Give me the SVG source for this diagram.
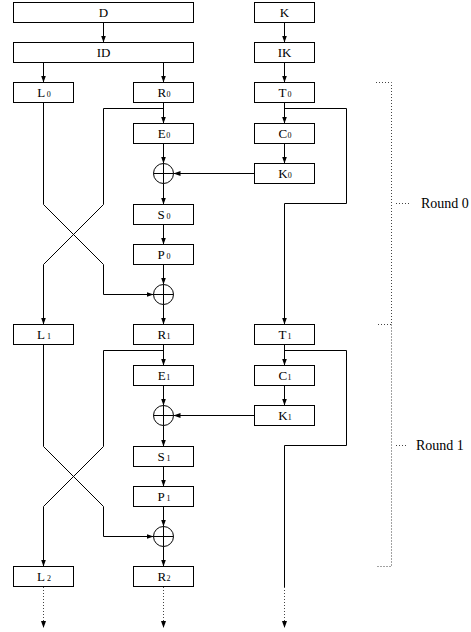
<svg xmlns="http://www.w3.org/2000/svg" width="471" height="632" viewBox="0 0 471 632">
<style>
.box{fill:#fff;stroke:#000;stroke-width:1}
.lbl{font-family:"Liberation Serif","DejaVu Serif",serif;font-size:13px;fill:#000;text-anchor:middle}
.sub{font-size:8px}
.ln{fill:none;stroke:#000;stroke-width:1}
.dot{fill:none;stroke:#444;stroke-width:1;stroke-dasharray:1,2}
.xor{fill:none;stroke:#000;stroke-width:1}
.rl{font-family:"Liberation Serif","DejaVu Serif",serif;font-size:14px;fill:#000}
</style>
<defs>
<marker id="ah" markerUnits="userSpaceOnUse" markerWidth="8" markerHeight="6" refX="7" refY="2.5" orient="auto">
<path d="M0,0 L7,2.5 L0,5 z" fill="#000"/>
</marker>
</defs>

<g id="connectors">
<path class="ln" d="M103.5,22.5 V42.5" marker-end="url(#ah)"/>
<path class="ln" d="M43.5,62.5 V82.5" marker-end="url(#ah)"/>
<path class="ln" d="M163.5,62.5 V82.5" marker-end="url(#ah)"/>
<path class="ln" d="M284.5,22.5 V42.5" marker-end="url(#ah)"/>
<path class="ln" d="M284.5,62.5 V82.5" marker-end="url(#ah)"/>
<path class="ln" d="M163.5,102.5 V123.5" marker-end="url(#ah)"/>
<path class="ln" d="M163.5,108.5 H103.5 V204.5 L43.5,264.5 V324.5" marker-end="url(#ah)"/>
<path class="ln" d="M43.5,102.5 V204.5 L103.5,264.5 V294.5 H153.5" marker-end="url(#ah)"/>
<path class="ln" d="M163.5,143.5 V163.5" marker-end="url(#ah)"/>
<path class="ln" d="M163.5,183.5 V204.5" marker-end="url(#ah)"/>
<path class="ln" d="M254.5,173.5 H173.5" marker-end="url(#ah)"/>
<path class="ln" d="M284.5,102.5 V123.5" marker-end="url(#ah)"/>
<path class="ln" d="M284.5,143.5 V163.5" marker-end="url(#ah)"/>
<path class="ln" d="M284.5,108.5 H346.5 V203.5 H284.5 V324.5" marker-end="url(#ah)"/>
<path class="ln" d="M163.5,224.5 V244.5" marker-end="url(#ah)"/>
<path class="ln" d="M163.5,264.5 V284.5" marker-end="url(#ah)"/>
<path class="ln" d="M163.5,304.5 V324.5" marker-end="url(#ah)"/>
<path class="ln" d="M163.5,344.5 V365.5" marker-end="url(#ah)"/>
<path class="ln" d="M163.5,350.5 H103.5 V446.5 L43.5,506.5 V566.5" marker-end="url(#ah)"/>
<path class="ln" d="M43.5,344.5 V446.5 L103.5,506.5 V536.5 H153.5" marker-end="url(#ah)"/>
<path class="ln" d="M163.5,385.5 V405.5" marker-end="url(#ah)"/>
<path class="ln" d="M163.5,425.5 V446.5" marker-end="url(#ah)"/>
<path class="ln" d="M254.5,415.5 H173.5" marker-end="url(#ah)"/>
<path class="ln" d="M284.5,344.5 V365.5" marker-end="url(#ah)"/>
<path class="ln" d="M284.5,385.5 V405.5" marker-end="url(#ah)"/>
<path class="ln" d="M284.5,350.5 H346.5 V445.5 H284.5 V587"/>
<path class="ln" d="M163.5,466.5 V486.5" marker-end="url(#ah)"/>
<path class="ln" d="M163.5,506.5 V526.5" marker-end="url(#ah)"/>
<path class="ln" d="M163.5,546.5 V566.5" marker-end="url(#ah)"/>
<path class="dot" d="M43.5,587 V628" marker-end="url(#ah)"/>
<path class="dot" d="M163.5,587 V628" marker-end="url(#ah)"/>
<path class="dot" d="M284.5,587 V628" marker-end="url(#ah)"/>
</g>

<g id="D"><rect class="box" x="13.5" y="2.5" width="180" height="20"/><text class="lbl" x="103.5" y="17">D</text></g>
<g id="ID"><rect class="box" x="13.5" y="42.5" width="180" height="20"/><text class="lbl" x="103.5" y="57">ID</text></g>
<g id="K"><rect class="box" x="254.5" y="2.5" width="60" height="20"/><text class="lbl" x="284.5" y="17">K</text></g>
<g id="IK"><rect class="box" x="254.5" y="42.5" width="60" height="20"/><text class="lbl" x="284.5" y="57">IK</text></g>

<g id="L0"><rect class="box" x="13.5" y="82.5" width="60" height="20"/><text class="lbl" x="44" y="97">L<tspan class="sub" dx="1.5">0</tspan></text></g>
<g id="R0"><rect class="box" x="133.5" y="82.5" width="60" height="20"/><text class="lbl" x="164" y="97">R<tspan class="sub" dx="0.5">0</tspan></text></g>
<g id="T0"><rect class="box" x="254.5" y="82.5" width="60" height="20"/><text class="lbl" x="285" y="97">T<tspan class="sub" dx="1">0</tspan></text></g>
<g id="E0"><rect class="box" x="133.5" y="123.5" width="60" height="20"/><text class="lbl" x="164" y="138">E<tspan class="sub" dx="0.5">0</tspan></text></g>
<g id="C0"><rect class="box" x="254.5" y="123.5" width="60" height="20"/><text class="lbl" x="285" y="138">C<tspan class="sub" dx="0.5">0</tspan></text></g>
<g id="XOR0"><circle class="xor" cx="163.5" cy="173.5" r="10"/><path class="xor" d="M153.5,173.5 H173.5 M163.5,163.5 V183.5"/></g>
<g id="K0"><rect class="box" x="254.5" y="163.5" width="60" height="20"/><text class="lbl" x="285" y="178">K<tspan class="sub" dx="0">0</tspan></text></g>
<g id="S0"><rect class="box" x="133.5" y="204.5" width="60" height="20"/><text class="lbl" x="164" y="219">S<tspan class="sub" dx="2">0</tspan></text></g>
<g id="P0"><rect class="box" x="133.5" y="244.5" width="60" height="20"/><text class="lbl" x="164" y="259">P<tspan class="sub" dx="2">0</tspan></text></g>
<g id="XOR1"><circle class="xor" cx="163.5" cy="294.5" r="10"/><path class="xor" d="M153.5,294.5 H173.5 M163.5,284.5 V304.5"/></g>

<g id="L1"><rect class="box" x="13.5" y="324.5" width="60" height="20"/><text class="lbl" x="44" y="339">L<tspan class="sub" dx="2">1</tspan></text></g>
<g id="R1"><rect class="box" x="133.5" y="324.5" width="60" height="20"/><text class="lbl" x="164" y="339">R<tspan class="sub" dx="0.5">1</tspan></text></g>
<g id="T1"><rect class="box" x="254.5" y="324.5" width="60" height="20"/><text class="lbl" x="285" y="339">T<tspan class="sub" dx="1">1</tspan></text></g>
<g id="E1"><rect class="box" x="133.5" y="365.5" width="60" height="20"/><text class="lbl" x="164" y="380">E<tspan class="sub" dx="0.5">1</tspan></text></g>
<g id="C1"><rect class="box" x="254.5" y="365.5" width="60" height="20"/><text class="lbl" x="285" y="380">C<tspan class="sub" dx="0.5">1</tspan></text></g>
<g id="XOR2"><circle class="xor" cx="163.5" cy="415.5" r="10"/><path class="xor" d="M153.5,415.5 H173.5 M163.5,405.5 V425.5"/></g>
<g id="K1"><rect class="box" x="254.5" y="405.5" width="60" height="20"/><text class="lbl" x="285" y="420">K<tspan class="sub" dx="0">1</tspan></text></g>
<g id="S1"><rect class="box" x="133.5" y="446.5" width="60" height="20"/><text class="lbl" x="164" y="461">S<tspan class="sub" dx="2">1</tspan></text></g>
<g id="P1"><rect class="box" x="133.5" y="486.5" width="60" height="20"/><text class="lbl" x="164" y="501">P<tspan class="sub" dx="2">1</tspan></text></g>
<g id="XOR3"><circle class="xor" cx="163.5" cy="536.5" r="10"/><path class="xor" d="M153.5,536.5 H173.5 M163.5,526.5 V546.5"/></g>

<g id="L2"><rect class="box" x="13.5" y="566.5" width="60" height="20"/><text class="lbl" x="44" y="581">L<tspan class="sub" dx="2">2</tspan></text></g>
<g id="R2"><rect class="box" x="133.5" y="566.5" width="60" height="20"/><text class="lbl" x="164" y="581">R<tspan class="sub" dx="0.5">2</tspan></text></g>

<g id="round0">
<path class="dot" d="M376,82.5 H391.5 V324.5 H376"/>
<path class="dot" d="M396,203.5 H411"/>
<text class="rl" x="421" y="208">Round 0</text>
</g>
<g id="round1">
<path class="dot" d="M391.5,324.5 V566.5 H376"/>
<path class="dot" d="M396,445.5 H406"/>
<text class="rl" x="416" y="450">Round 1</text>
</g>
</svg>
